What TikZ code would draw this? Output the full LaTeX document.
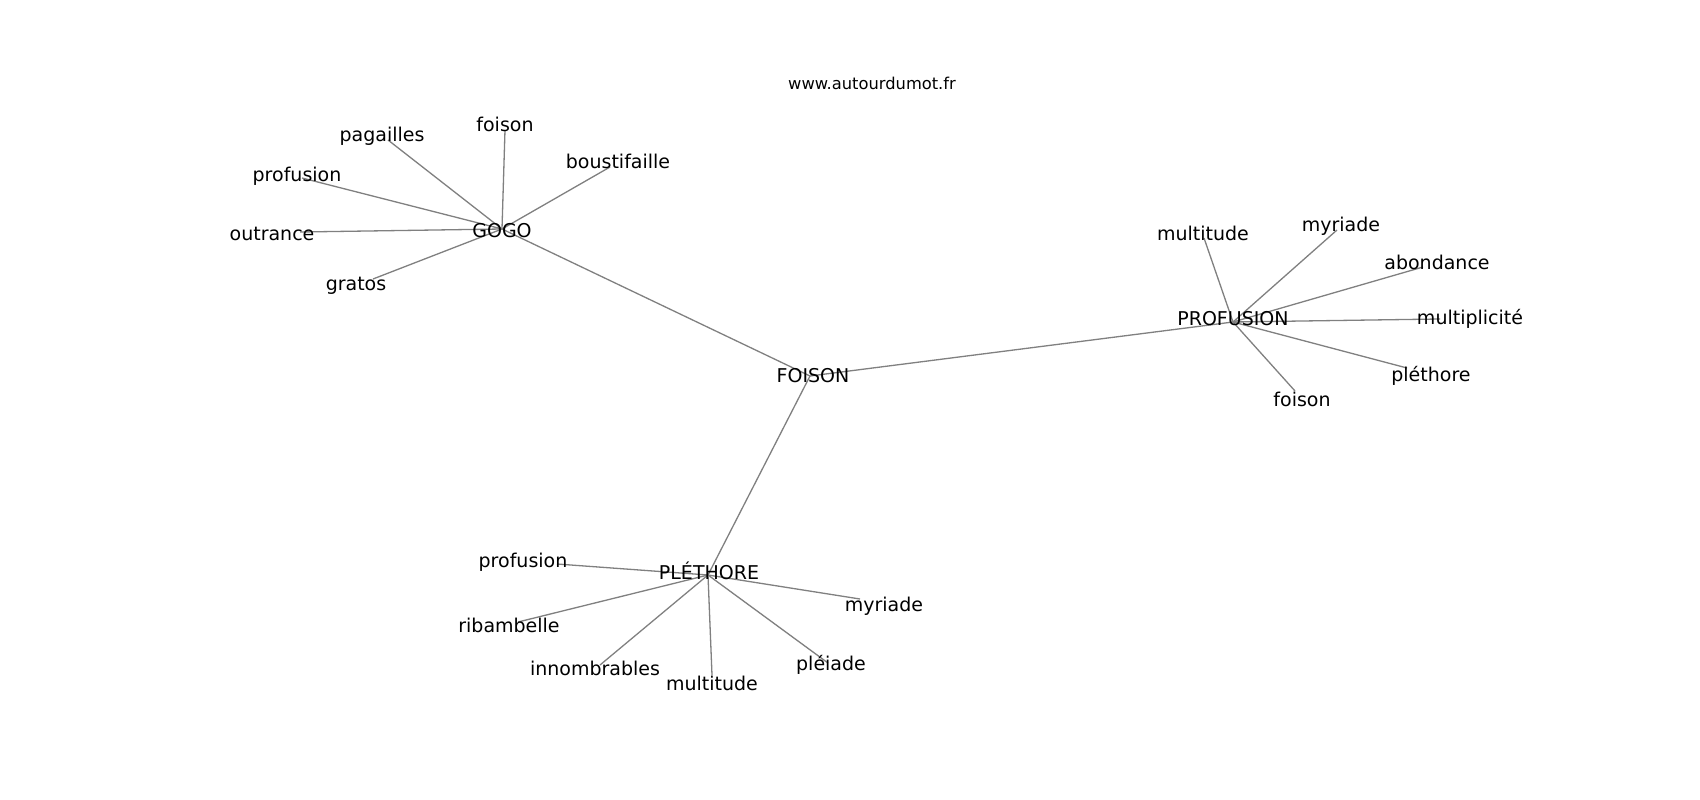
\documentclass[tikz,border=0pt]{standalone}
\usepackage{fontspec}
\setmainfont{DejaVu Sans}
\begin{document}
\begin{tikzpicture}[x=1pt,y=-1pt,
  edge/.style={draw=gray, line width=1.3pt},
  lbl/.style={inner sep=0pt, text=black, font=\fontsize{19}{19}\selectfont},
  ttl/.style={inner sep=0pt, text=black, font=\fontsize{16.3}{16.3}\selectfont}]
\useasboundingbox (0,0) rectangle (1700,800);
\fill[white] (0,0) rectangle (1700,800);
% hubs
\coordinate (F) at (810,376);
\coordinate (G) at (502,229);
\coordinate (P) at (1233,322);
\coordinate (L) at (708,575);
% GOGO leaves
\coordinate (g1) at (388,140);
\coordinate (g2) at (505,130);
\coordinate (g3) at (610,167);
\coordinate (g4) at (302,178);
\coordinate (g5) at (300,232);
\coordinate (g6) at (373,279);
% PROFUSION leaves
\coordinate (p1) at (1204,238);
\coordinate (p2) at (1337,230);
\coordinate (p3) at (1423,267);
\coordinate (p4) at (1440,319);
\coordinate (p5) at (1407,368);
\coordinate (p6) at (1295,391);
% PLETHORE leaves
\coordinate (l1) at (557,564);
\coordinate (l2) at (518,622);
\coordinate (l3) at (600,665);
\coordinate (l4) at (712,675);
\coordinate (l5) at (828,663);
\coordinate (l6) at (860,599);
% edges
\draw[edge] (F) -- (G);
\draw[edge] (F) -- (P);
\draw[edge] (F) -- (L);
\foreach \n in {g1,g2,g3,g4,g5,g6} \draw[edge] (G) -- (\n);
\foreach \n in {p1,p2,p3,p4,p5,p6} \draw[edge] (P) -- (\n);
\foreach \n in {l1,l2,l3,l4,l5,l6} \draw[edge] (L) -- (\n);
% labels
\node[ttl] (title) at (872,83) {www.autourdumot.fr};
\node[lbl] (tF) at (813,375.5) {FOISON};
\node[lbl] (tG) at (502,230.5) {GOGO};
\node[lbl] (tg1) at (382,136) {pagailles};
\node[lbl] (tg2) at (505,124) {foison};
\node[lbl] (tg3) at (618,161) {boustifaille};
\node[lbl] (tg4) at (297,176.5) {profusion};
\node[lbl] (tg5) at (272,233.5) {outrance};
\node[lbl] (tg6) at (356,286) {gratos};
\node[lbl] (tP) at (1233,319) {PROFUSION};
\node[lbl] (tp1) at (1203,233) {multitude};
\node[lbl] (tp2) at (1341,226) {myriade};
\node[lbl] (tp3) at (1437,262.5) {abondance};
\node[lbl] (tp4) at (1470,319) {multiplicité};
\node[lbl] (tp5) at (1431,376) {pléthore};
\node[lbl] (tp6) at (1302,399) {foison};
\node[lbl] (tL) at (709,570.5) {PLÉTHORE};
\node[lbl] (tl1) at (523,562) {profusion};
\node[lbl] (tl2) at (509,625.5) {ribambelle};
\node[lbl] (tl3) at (595,668.5) {innombrables};
\node[lbl] (tl4) at (712,683.5) {multitude};
\node[lbl] (tl5) at (831,665) {pléiade};
\node[lbl] (tl6) at (884,606) {myriade};
\end{tikzpicture}
\end{document}
